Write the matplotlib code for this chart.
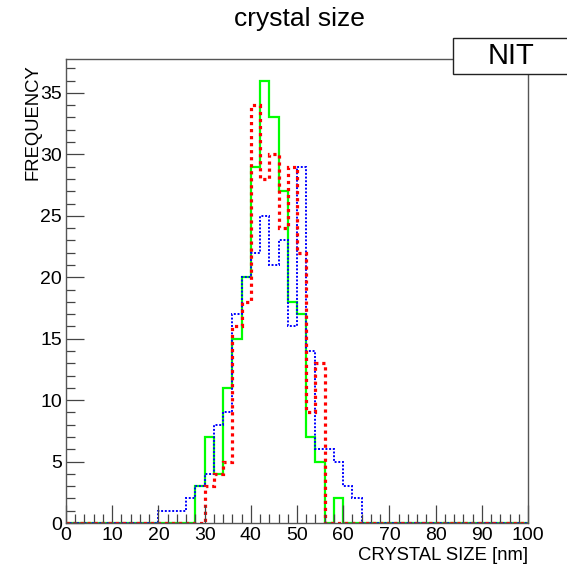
import numpy as np
import matplotlib
matplotlib.use('Agg')
import matplotlib.pyplot as plt
from matplotlib.patches import Rectangle
from matplotlib.ticker import MultipleLocator

plt.rcParams['font.family'] = ['Liberation Sans', 'DejaVu Sans']

# 2 nm bins from 0 to 100 nm
bin_edges = np.arange(0, 102, 2)

green_counts = [0, 0, 0, 0, 0, 0, 0, 0, 0, 0,
                0, 0, 0, 0, 3, 7, 4, 11, 15, 20,
                29, 36, 33, 27, 18, 17, 7, 5, 0, 2,
                0, 0, 0, 0, 0, 0, 0, 0, 0, 0,
                0, 0, 0, 0, 0, 0, 0, 0, 0, 0]
blue_counts = [0, 0, 0, 0, 0, 0, 0, 0, 0, 0,
               1, 1, 1, 2, 3, 4, 8, 9, 17, 20,
               22, 25, 21, 23, 16, 29, 14, 6, 6, 5,
               3, 2, 0, 0, 0, 0, 0, 0, 0, 0,
               0, 0, 0, 0, 0, 0, 0, 0, 0, 0]
red_counts = [0, 0, 0, 0, 0, 0, 0, 0, 0, 0,
              0, 0, 0, 0, 0, 3, 4, 5, 16, 18,
              34, 28, 30, 24, 29, 22, 9, 13, 0, 0,
              0, 0, 0, 0, 0, 0, 0, 0, 0, 0,
              0, 0, 0, 0, 0, 0, 0, 0, 0, 0]

W, H = 567, 566
fig = plt.figure(figsize=(W / 100, H / 100), dpi=100)
ax = fig.add_axes([66 / W, 1 - 523 / H, (528 - 66) / W, (523 - 58.5) / H])

ax.stairs(green_counts, bin_edges, color='#00ff00', lw=1.6, baseline=0)
ax.stairs(blue_counts, bin_edges, color='#0000ff', lw=1.4, baseline=0,
          linestyle=(0, (1, 0.9)))
ax.stairs(red_counts, bin_edges, color='#ff0000', lw=2.3, baseline=0,
          linestyle=(0, (1, 1.2)))

ax.set_xlim(0, 100)
ax.set_ylim(0, 37.8)

# ROOT-like axes: ticks inside, bottom/left only
ax.xaxis.set_major_locator(MultipleLocator(10))
ax.xaxis.set_minor_locator(MultipleLocator(2))
ax.yaxis.set_major_locator(MultipleLocator(5))
ax.yaxis.set_minor_locator(MultipleLocator(1))
ax.tick_params(which='both', direction='in', top=False, right=False,
               color='#444444', width=0.9, labelsize=14)
ax.tick_params(axis='x', which='major', length=13, pad=3)
ax.tick_params(axis='y', which='major', length=13, pad=3)
ax.tick_params(which='minor', length=6.5)
for s in ax.spines.values():
    s.set_color('#555555')
    s.set_linewidth(1.0)

fig.text(299 / W, 1 - 19 / H, 'crystal size', ha='center', va='center',
         fontsize=19)
fig.text(528 / W, 1 - 556 / H, 'CRYSTAL SIZE [nm]', ha='right',
         va='center', fontsize=13.3)
fig.text(33 / W, 1 - 64 / H, 'FREQUENCY', ha='center', va='top',
         rotation=90, fontsize=13.3)

# stat-box style label
fig.patches.append(Rectangle((453 / W, 1 - 73.5 / H), 130 / W, 35.5 / H,
                             transform=fig.transFigure, facecolor='white',
                             edgecolor='#222222', lw=1.0, zorder=5))
fig.text(511 / W, 1 - 56 / H, 'NIT', ha='center', va='center',
         fontsize=21, zorder=6)

fig.savefig('out.png', dpi=100)
